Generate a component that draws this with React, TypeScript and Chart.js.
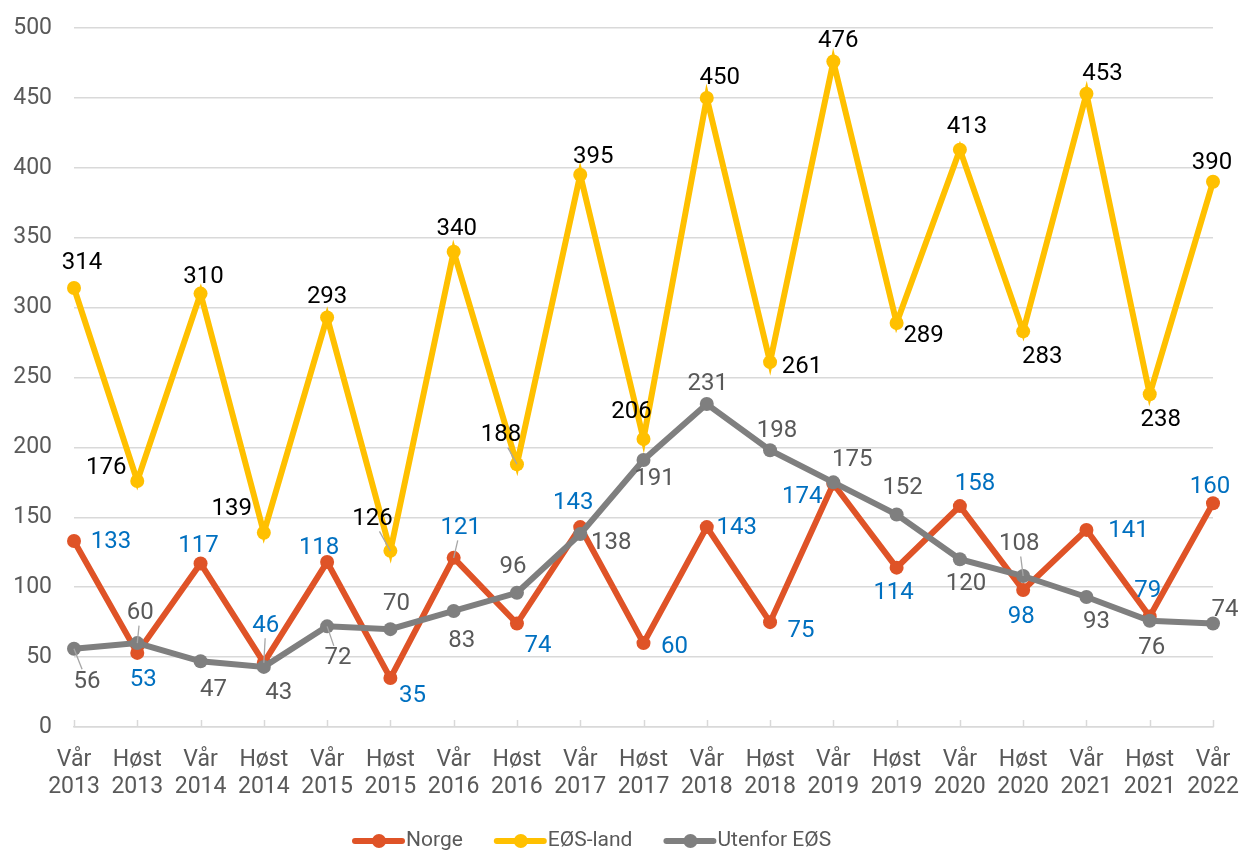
import React, { useEffect, useRef } from "react";
import { Chart, registerables } from "chart.js";

Chart.register(...registerables);

// ---- data ----
const seasons = ["Vår", "Høst", "Vår", "Høst", "Vår", "Høst", "Vår", "Høst", "Vår", "Høst", "Vår", "Høst", "Vår", "Høst", "Vår", "Høst", "Vår", "Høst", "Vår"];
const years = ["2013", "2013", "2014", "2014", "2015", "2015", "2016", "2016", "2017", "2017", "2018", "2018", "2019", "2019", "2020", "2020", "2021", "2021", "2022"];
const seriesNames = ["Norge", "EØS-land", "Utenfor EØS"];
const norge = [133, 53, 117, 46, 118, 35, 121, 74, 143, 60, 143, 75, 174, 114, 158, 98, 141, 79, 160];
const eos = [314, 176, 310, 139, 293, 126, 340, 188, 395, 206, 450, 261, 476, 289, 413, 283, 453, 238, 390];
const utenfor = [56, 60, 47, 43, 72, 70, 83, 96, 138, 191, 231, 198, 175, 152, 120, 108, 93, 76, 74];
const yMin = 0;
const yMax = 500;
const yStep = 50;

// ---- label placement (offsets from point, px) ----
const norgeOff = [[37, 1], [6, 27], [-2, -17], [2, -37], [-8, -14], [22, 18], [7, -30], [21, 22], [-7, -24], [31, 4], [30, 1], [31, 9], [-31, 13], [-3, 25], [15, -22], [-2, 27], [42, 1], [-2, -26], [-3, -16]];
const eosOff = [[8, -25], [-31, -13], [3, -17], [-32, -24], [0, -20], [-18, -32], [3, -23], [-16, -29], [13, -18], [-12, -27], [13, -20], [32, 5], [5, -21], [27, 13], [7, -23], [19, 26], [16, -20], [11, 26], [-1, -19]];
const utenOff = [[13, 33], [3, -30], [13, 29], [15, 26], [11, 32], [6, -25], [8, 30], [-4, -26], [31, 9], [11, 19], [1, -20], [7, -19], [19, -22], [6, -27], [6, 25], [-4, -32], [10, 25], [2, 27], [12, -14]];
const norgeLeaders = [3, 6];
const eosLeaders = [5, 7];
const utenLeaders = [0, 1, 4, 15];

const COL_NORGE = "#DF5327";
const COL_EOS = "#FFC000";
const COL_UTEN = "#7F7F7F";
const TEXT_GREY = "#595959";
const FONT = "Roboto";

const labelCfg = [
  { off: norgeOff, leaders: norgeLeaders, color: "#0070C0" },
  { off: eosOff, leaders: eosLeaders, color: "#000000" },
  { off: utenOff, leaders: utenLeaders, color: "#595959" },
];

const labelsPlugin = {
  id: "customLabels",
  beforeDatasetsDraw(chart: any) {
    const ctx = chart.ctx;
    const xs = chart.scales.x;
    const bottom = chart.chartArea.bottom;
    ctx.save();
    ctx.strokeStyle = "#D9D9D9";
    ctx.lineWidth = 1.5;
    for (let i = 0; i < seasons.length; i++) {
      const x = Math.round(xs.getPixelForValue(i)) + 0.5;
      ctx.beginPath();
      ctx.moveTo(x, bottom);
      ctx.lineTo(x, bottom - 7);
      ctx.stroke();
    }
    ctx.restore();
  },
  afterDatasetsDraw(chart: any) {
    const ctx = chart.ctx;
    ctx.save();
    ctx.font = `24px ${FONT}`;
    ctx.textAlign = "center";
    ctx.textBaseline = "middle";
    chart.data.datasets.forEach((ds: any, di: number) => {
      const meta = chart.getDatasetMeta(di);
      const cfg = labelCfg[di];
      meta.data.forEach((pt: any, i: number) => {
        const [dx, dy] = cfg.off[i];
        const lx = pt.x + dx;
        const ly = pt.y + dy;
        const text = String(ds.data[i]);
        if (cfg.leaders.includes(i)) {
          const w = ctx.measureText(text).width;
          const hx = w / 2 + 2;
          const hy = 12.5;
          const vx = pt.x - lx;
          const vy = pt.y - ly;
          const tx = vx !== 0 ? hx / Math.abs(vx) : Infinity;
          const ty = vy !== 0 ? hy / Math.abs(vy) : Infinity;
          const t = Math.min(tx, ty);
          ctx.strokeStyle = "#A6A6A6";
          ctx.lineWidth = 1.3;
          ctx.beginPath();
          ctx.moveTo(lx + vx * t, ly + vy * t);
          ctx.lineTo(pt.x, pt.y);
          ctx.stroke();
        }
        ctx.fillStyle = cfg.color;
        ctx.fillText(text, lx, ly);
      });
    });
    ctx.restore();
  },
  afterDraw(chart: any) {
    const ctx = chart.ctx;
    const colors = [COL_NORGE, COL_EOS, COL_UTEN];
    ctx.save();
    ctx.font = `21px ${FONT}`;
    ctx.textBaseline = "middle";
    ctx.textAlign = "left";
    const y = 841;
    let x = 355;
    seriesNames.forEach((name, i) => {
      ctx.strokeStyle = colors[i];
      ctx.lineWidth = 6;
      ctx.lineCap = "round";
      ctx.beginPath();
      ctx.moveTo(x, y);
      ctx.lineTo(x + 47, y);
      ctx.stroke();
      ctx.fillStyle = colors[i];
      ctx.beginPath();
      ctx.arc(x + 24, y, 7, 0, Math.PI * 2);
      ctx.fill();
      ctx.fillStyle = TEXT_GREY;
      ctx.fillText(name, x + 51, y);
      x += 51 + ctx.measureText(name).width + 34;
    });
    ctx.restore();
  },
};

export default function App() {
  const canvasRef = useRef<HTMLCanvasElement | null>(null);

  useEffect(() => {
    document.body.style.margin = "0";
    const canvas = canvasRef.current;
    if (!canvas) return;
    const labels = seasons.map((s, i) => [s, years[i]]);
    const mk = (label: string, data: number[], color: string, order: number) => ({
      label,
      data,
      borderColor: color,
      backgroundColor: color,
      pointBackgroundColor: color,
      pointBorderColor: color,
      borderWidth: 6,
      pointRadius: 7,
      pointBorderWidth: 0,
      tension: 0,
      order,
    });
    const chart = new Chart(canvas, {
      type: "line",
      data: {
        labels,
        datasets: [
          mk(seriesNames[0], norge, COL_NORGE, 1),
          mk(seriesNames[1], eos, COL_EOS, 2),
          mk(seriesNames[2], utenfor, COL_UTEN, 0),
        ],
      },
      options: {
        responsive: false,
        animation: false,
        layout: { padding: { left: 0, right: 27, top: 28, bottom: 0 } },
        plugins: {
          legend: { display: false },
          tooltip: { enabled: false },
        },
        scales: {
          x: {
            offset: false,
            grid: { display: false, drawTicks: false },
            border: { display: true, color: "#D9D9D9", width: 1.5 },
            ticks: {
              color: TEXT_GREY,
              font: { family: FONT, size: 23, lineHeight: 27 / 23 },
              padding: 20,
              maxRotation: 0,
              autoSkip: false,
            },
            afterFit(scale: any) {
              scale.height = 126;
              scale.paddingLeft = 0;
              scale.paddingRight = 0;
            },
          },
          y: {
            min: yMin,
            max: yMax,
            grid: { color: "#D9D9D9", lineWidth: 1.5, drawTicks: false },
            border: { display: false },
            ticks: {
              stepSize: yStep,
              color: TEXT_GREY,
              font: { family: FONT, size: 23 },
              padding: 22,
            },
            afterFit(scale: any) {
              scale.width = 74;
              scale.paddingTop = 0;
              scale.paddingBottom = 0;
            },
          },
        },
      },
      plugins: [labelsPlugin],
    } as any);
    return () => chart.destroy();
  }, []);

  return (
    <div style={{ width: 1240, height: 853 }}>
      <canvas ref={canvasRef} width={1240} height={853} />
    </div>
  );
}
